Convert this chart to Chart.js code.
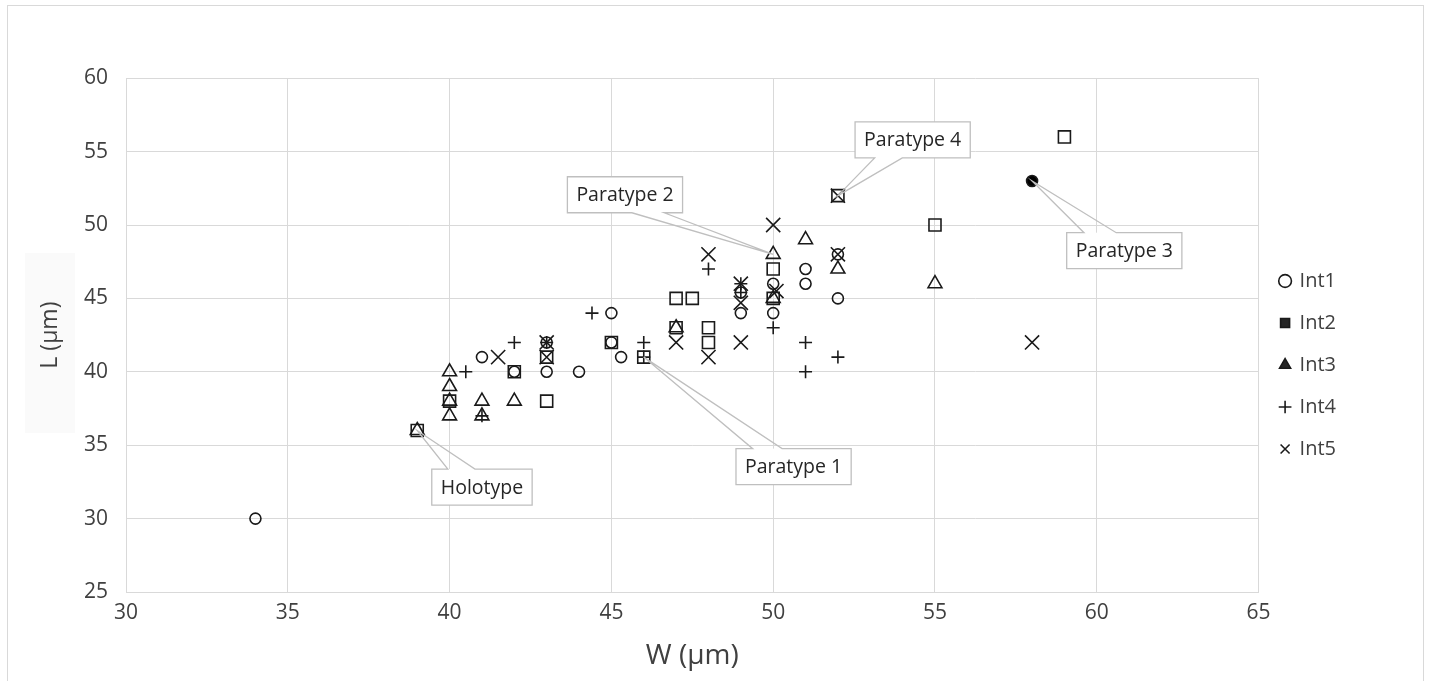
<!DOCTYPE html>
<html>
<head>
<meta charset="utf-8">
<script src="https://cdn.jsdelivr.net/npm/chart.js@4.4.1/dist/chart.umd.min.js"></script>
<style>
  html, body { margin: 0; background: #fff; }
  #frame { position: absolute; left: 7px; top: 5px; width: 1417px; height: 700px; border: 1px solid #d9d9d9; box-sizing: border-box; }
  #shade { position: absolute; left: 25px; top: 253px; width: 50px; height: 180px; background: #fafafa; }
  #wrap { position: absolute; left: 0; top: 0; width: 1431px; height: 681px; }
</style>
</head>
<body>
<div id="frame"></div>
<div id="shade"></div>
<div id="wrap"><canvas id="chart" width="1431" height="681"></canvas></div>
<script>
// W and L (µm) for each interval group
const int1W = [34, 41, 42, 43, 43, 44, 45, 45, 45.3, 49, 49, 50, 50, 51, 51, 52, 52, 58];
const int1L = [30, 41, 40, 40, 42, 40, 44, 42, 41, 45.4, 44, 46, 44, 47, 46, 48, 45, 53];

const int2W = [39, 40, 42, 43, 43, 45, 46, 47, 47.5, 47, 48, 48, 50, 50, 52, 55, 59];
const int2L = [36, 38, 40, 41, 38, 42, 41, 45, 45, 43, 43, 42, 47, 45, 52, 50, 56];

const int3W = [39, 40, 40, 40, 40, 41, 41, 42, 47, 50, 50, 51, 52, 55];
const int3L = [36, 40, 39, 38, 37, 38, 37, 38, 43, 48, 45, 49, 47, 46];

const int4W = [40.5, 41, 42, 43, 44.4, 46, 46, 48, 49, 49, 50, 51, 51, 52];
const int4L = [40, 37, 42, 42, 44, 42, 41, 47, 46, 45.4, 43, 42, 40, 41];

const int5W = [41.5, 43, 43, 47, 48, 48, 49, 49, 49, 50, 50.1, 52, 52, 58];
const int5L = [41, 42, 41, 42, 48, 41, 46, 44.7, 42, 50, 45.5, 52, 48, 42];

const xTicks = [30, 35, 40, 45, 50, 55, 60, 65];
const yTicks = [25, 30, 35, 40, 45, 50, 55, 60];

// specimens marked with a callout: [W, L] of the specimen, [W, L] of the label centre
const calloutText = ['Holotype', 'Paratype 1', 'Paratype 2', 'Paratype 3', 'Paratype 4'];
const calloutAt = [[39, 36], [46, 41], [50, 48], [58, 53], [52, 52]];
const calloutBox = [[41.0, 32.15], [50.63, 33.54], [45.42, 52.06], [60.85, 48.25], [54.31, 55.8]];
const calloutSide = ['top', 'top', 'bottom', 'top', 'bottom'];
const calloutBase = [[0.16, 0.43], [0.145, 0.40], [0.56, 0.84], [0.15, 0.43], [0.17, 0.41]];

const paratype3 = calloutAt[3];

const pts = (w, l) => w.map((v, i) => ({ x: v, y: l[i] }));

const ink = '#1a1a1a';
const none = 'rgba(0,0,0,0)';

const calloutPlugin = {
    id: 'callouts',
    afterDatasetsDraw(chart) {
        const { ctx, scales: { x, y } } = chart;
        ctx.save();
        ctx.font = '19.5px "Open Sans"';
        calloutText.forEach((text, i) => {
            const tx = x.getPixelForValue(calloutAt[i][0]);
            const ty = y.getPixelForValue(calloutAt[i][1]);
            const cx = x.getPixelForValue(calloutBox[i][0]);
            const cy = y.getPixelForValue(calloutBox[i][1]);
            const w = ctx.measureText(text).width + 18, h = 36;
            const l = cx - w / 2, t = cy - h / 2, r = l + w, b = t + h;
            const b0 = l + w * calloutBase[i][0], b1 = l + w * calloutBase[i][1];

            ctx.fillStyle = '#fff';
            ctx.fillRect(l, t, w, h);

            ctx.beginPath();
            ctx.moveTo(l, t);
            if (calloutSide[i] === 'top') {
                ctx.lineTo(b0, t); ctx.lineTo(tx, ty); ctx.lineTo(b1, t);
            }
            ctx.lineTo(r, t);
            ctx.lineTo(r, b);
            if (calloutSide[i] === 'bottom') {
                ctx.lineTo(b1, b); ctx.lineTo(tx, ty); ctx.lineTo(b0, b);
            }
            ctx.lineTo(l, b);
            ctx.closePath();
            ctx.strokeStyle = '#bfbfbf';
            ctx.lineWidth = 1.3;
            ctx.stroke();

            ctx.fillStyle = '#262626';
            ctx.textAlign = 'center';
            ctx.textBaseline = 'middle';
            ctx.fillText(text, cx, cy + 1);
        });
        ctx.restore();
    }
};

document.addEventListener('DOMContentLoaded', () => {
    const ctx = document.getElementById('chart').getContext('2d');

    new Chart(ctx, {
        type: 'scatter',
        data: {
            datasets: [
                {
                    label: 'Int1', data: pts(int1W, int1L), pointStyle: 'circle', pointRadius: 5.5,
                    backgroundColor: c => (c.raw && c.raw.x === paratype3[0] && c.raw.y === paratype3[1]) ? '#000' : none
                },
                { label: 'Int2', data: pts(int2W, int2L), pointStyle: 'rect', pointRadius: 8.5, backgroundColor: none },
                { label: 'Int3', data: pts(int3W, int3L), pointStyle: 'triangle', pointRadius: 8, backgroundColor: none },
                { label: 'Int4', data: pts(int4W, int4L), pointStyle: 'cross', pointRadius: 6.5, backgroundColor: none },
                { label: 'Int5', data: pts(int5W, int5L), pointStyle: 'crossRot', pointRadius: 10, backgroundColor: none }
            ].map(d => Object.assign({ borderColor: ink, borderWidth: 1.6, pointHoverRadius: d.pointRadius }, d))
        },
        options: {
            responsive: false,
            animation: false,
            events: [],
            layout: { padding: { top: 55, left: 20, right: 85, bottom: 6 } },
            scales: {
                x: {
                    type: 'linear',
                    min: 30, max: 65,
                    afterBuildTicks: s => { s.ticks = xTicks.map(v => ({ value: v })); },
                    afterFit: s => { s.height = 83; },
                    grid: { color: '#d9d9d9', drawTicks: false },
                    border: { color: '#d9d9d9' },
                    ticks: { padding: 8, color: '#404040', font: { family: 'Open Sans', size: 21 } },
                    title: {
                        display: true, text: 'W (µm)', color: '#404040',
                        font: { family: 'Open Sans', size: 28 }, padding: { top: 0, bottom: 2 }
                    }
                },
                y: {
                    type: 'linear',
                    min: 25, max: 60,
                    afterBuildTicks: s => { s.ticks = yTicks.map(v => ({ value: v })); },
                    afterFit: s => { s.width = 106; },
                    grid: { color: '#d9d9d9', drawTicks: false },
                    border: { color: '#d9d9d9' },
                    ticks: { padding: 18, color: '#404040', font: { family: 'Open Sans', size: 21 } },
                    title: {
                        display: true, text: 'L (µm)', color: '#404040',
                        font: { family: 'Open Sans', size: 23 }, padding: { top: 17, bottom: 0 }
                    }
                }
            },
            plugins: {
                // empty block above the plot so the legend can sit lower than the plot centre
                title: { display: true, text: '', fullSize: false, font: { size: 1 }, padding: { top: 22, bottom: 0 } },
                tooltip: { enabled: false },
                legend: {
                    position: 'right',
                    labels: {
                        usePointStyle: true,
                        boxWidth: 9,
                        boxHeight: 9,
                        padding: 22,
                        color: '#404040',
                        font: { family: 'Open Sans', size: 20 },
                        generateLabels: chart => {
                            const items = Chart.defaults.plugins.legend.labels.generateLabels(chart);
                            items.forEach(it => {
                                if (it.text === 'Int2' || it.text === 'Int3') it.fillStyle = '#262626';
                                if (it.text === 'Int1') it.fillStyle = none;
                            });
                            return items;
                        }
                    }
                }
            }
        },
        plugins: [calloutPlugin]
    });
});
</script>
</body>
</html>
